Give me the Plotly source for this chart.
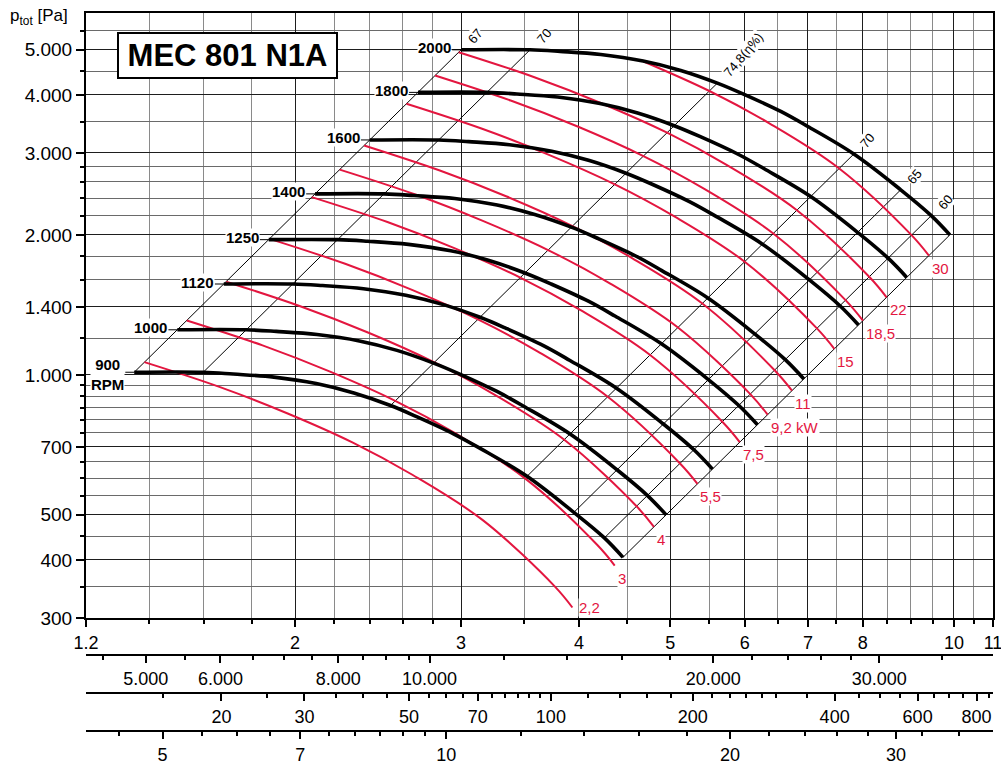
import numpy as np
import plotly.graph_objects as go

# ---------------- values ----------------
# Fan curves: volume flow Q [m3/s] and total pressure p_tot [Pa] per speed
q_2000 = [3.000, 3.550, 3.820, 4.220, 4.680, 5.130, 5.610, 5.980, 6.550, 6.990, 7.830, 8.780, 9.460, 9.900]
p_2000 = [5000, 5000, 4960, 4885, 4730, 4515, 4240, 4015, 3685, 3425, 2985, 2500, 2200, 2000]
q_1800 = [2.700, 3.195, 3.438, 3.798, 4.212, 4.617, 5.049, 5.382, 5.895, 6.291, 7.047, 7.902, 8.514, 8.910]
p_1800 = [4050, 4050, 4018, 3957, 3831, 3657, 3434, 3252, 2985, 2774, 2418, 2025, 1782, 1620]
q_1600 = [2.400, 2.840, 3.056, 3.376, 3.744, 4.104, 4.488, 4.784, 5.240, 5.592, 6.264, 7.024, 7.568, 7.920]
p_1600 = [3200, 3200, 3174, 3126, 3027, 2890, 2714, 2570, 2358, 2192, 1910, 1600, 1408, 1280]
q_1400 = [2.100, 2.485, 2.674, 2.954, 3.276, 3.591, 3.927, 4.186, 4.585, 4.893, 5.481, 6.146, 6.622, 6.930]
p_1400 = [2450, 2450, 2430, 2394, 2318, 2212, 2078, 1967, 1806, 1678, 1463, 1225, 1078, 980]
q_1250 = [1.875, 2.219, 2.388, 2.638, 2.925, 3.206, 3.506, 3.738, 4.094, 4.369, 4.894, 5.488, 5.913, 6.188]
p_1250 = [1953, 1953, 1938, 1908, 1848, 1764, 1656, 1568, 1440, 1338, 1166, 977, 859, 781]
q_1120 = [1.680, 1.988, 2.139, 2.363, 2.621, 2.873, 3.142, 3.349, 3.668, 3.914, 4.385, 4.917, 5.298, 5.544]
p_1120 = [1568, 1568, 1556, 1532, 1483, 1416, 1330, 1259, 1156, 1074, 936, 784, 690, 627]
q_1000 = [1.500, 1.775, 1.910, 2.110, 2.340, 2.565, 2.805, 2.990, 3.275, 3.495, 3.915, 4.390, 4.730, 4.950]
p_1000 = [1250, 1250, 1240, 1221, 1183, 1129, 1060, 1004, 921, 856, 746, 625, 550, 500]
q_900 = [1.350, 1.598, 1.719, 1.899, 2.106, 2.309, 2.525, 2.691, 2.948, 3.146, 3.524, 3.951, 4.257, 4.455]
p_900 = [1013, 1013, 1004, 989, 958, 914, 859, 813, 746, 694, 605, 506, 446, 405]
rpm_labels = ["2000", "1800", "1600", "1400", "1250", "1120", "1000", "900<br>RPM"]

# Shaft power curves [kW]
q_kw_2_2 = [1.384, 1.665, 1.961, 2.303, 2.666, 3.163, 3.775, 3.937]
p_kw_2_2 = [1065, 941, 827, 715, 609, 487, 350, 316]
q_kw_3 = [1.535, 1.847, 2.175, 2.554, 2.956, 3.507, 4.187, 4.366]
p_kw_3 = [1309, 1157, 1017, 879, 749, 599, 430, 389]
q_kw_4 = [1.690, 2.032, 2.393, 2.811, 3.254, 3.860, 4.608, 4.805]
p_kw_4 = [1586, 1401, 1232, 1064, 907, 725, 521, 471]
q_kw_5_5 = [1.879, 2.260, 2.661, 3.126, 3.619, 4.292, 5.124, 5.344]
p_kw_5_5 = [1961, 1733, 1523, 1316, 1122, 897, 644, 583]
q_kw_7_5 = [2.083, 2.506, 2.951, 3.466, 4.013, 4.760, 5.682, 5.925]
p_kw_7_5 = [2411, 2131, 1873, 1619, 1379, 1103, 792, 717]
q_kw_9_2 = [2.230, 2.683, 3.159, 3.710, 4.296, 5.095, 6.083, 6.343]
p_kw_9_2 = [2763, 2442, 2146, 1855, 1581, 1264, 908, 821]
q_kw_11 = [2.367, 2.848, 3.353, 3.938, 4.559, 5.408, 6.456, 6.732]
p_kw_11 = [3113, 2750, 2418, 2089, 1781, 1424, 1022, 925]
q_kw_15 = [2.625, 3.158, 3.718, 4.367, 5.056, 5.997, 7.159, 7.466]
p_kw_15 = [3828, 3382, 2973, 2569, 2189, 1751, 1257, 1137]
q_kw_18_5 = [2.815, 3.386, 3.988, 4.683, 5.422, 6.431, 7.677, 8.006]
p_kw_18_5 = [4403, 3890, 3420, 2955, 2518, 2014, 1446, 1308]
q_kw_22 = [2.982, 3.588, 4.225, 4.962, 5.744, 6.813, 8.134, 8.482]
p_kw_22 = [4941, 4366, 3838, 3317, 2826, 2260, 1623, 1468]
q_kw_30 = [4.685, 5.502, 6.370, 7.555, 9.020, 9.406]
p_kw_30 = [4720, 4078, 3475, 2779, 1995, 1805]
kw_labels = ["2,2", "3", "4", "5,5", "7,5", "9,2 kW", "11", "15", "18,5", "22", "30"]

# Efficiency lines (between the 900 and 2000 RPM curves)
q_eff_67 = [1.350, 3.00];  p_eff_67 = [1013, 5000]
q_eff_70a = [1.598, 3.55]; p_eff_70a = [1013, 5000]
q_eff_748 = [2.525, 5.61]; p_eff_748 = [859, 4240]
q_eff_70b = [3.524, 7.83]; p_eff_70b = [605, 2985]
q_eff_65 = [3.951, 8.78];  p_eff_65 = [506, 2500]
q_eff_60 = [4.257, 9.46];  p_eff_60 = [446, 2200]
q_end = [4.455, 9.90];     p_end = [405, 2000]
eff_labels = ["67", "70", "74,8(\u03b7%)", "70", "65", "60"]

# Axis ticks
x_major = [1.2, 2, 3, 4, 5, 6, 7, 8, 10, 11]
x_major_text = ["1.2", "2", "3", "4", "5", "6", "7", "8", "10", "11"]
x_minor = [1.4, 1.6, 1.8, 2.2, 2.4, 2.6, 2.8, 3.5, 4.5, 5.5, 6.5, 7.5, 8.5, 9, 9.5, 10.5]
x_dark_unlabelled = [9]
y_major = [300, 400, 500, 700, 1000, 1400, 2000, 3000, 4000, 5000]
y_major_text = ["300", "400", "500", "700", "1.000", "1.400", "2.000", "3.000", "4.000", "5.000"]
y_minor = [350, 450, 550, 600, 650, 750, 800, 850, 900, 950, 1200, 1600, 1800, 2200, 2400,
           2600, 2800, 3500, 4500, 5500]
y_dark_unlabelled = [600, 800, 900, 1200]
# m3/h scale
qh_major = [5000, 6000, 8000, 10000, 20000, 30000]
qh_major_text = ["5.000", "6.000", "8.000", "10.000", "20.000", "30.000"]
qh_minor = [4500, 5500, 6500, 7000, 7500, 8500, 9000, 9500, 12000, 14000, 16000, 18000,
            22000, 24000, 26000, 28000, 35000]
# dynamic pressure scale [Pa]
pd_major = [20, 30, 50, 70, 100, 200, 400, 600, 800]
pd_minor = [15, 25, 35, 40, 45, 55, 60, 65, 75, 80, 85, 90, 95, 120, 140, 160, 180,
            220, 240, 260, 280, 300, 350, 450, 500, 550, 650, 700, 750, 850]
# outlet velocity scale [m/s]
v_major = [5, 7, 10, 20, 30]
v_minor = [4.5, 5.5, 6, 6.5, 7.5, 8, 8.5, 9, 9.5, 12, 14, 16, 18, 22, 24, 26, 28, 32, 35]

# scale factors of the secondary axes relative to Q [m3/s]
QH_PER_Q = 3600.0
V_PER_Q = 3.456
PD_PER_Q2 = 0.6 * V_PER_Q ** 2

# ---------------- figure ----------------
RED = "#e3163f"
DARK = "#1e1e1e"
Q_MIN, Q_MAX = 1.2, 11.0
P_MIN, P_MAX = 300, 6000

H = 767
TOP, BOTTOM = 13, 0
plot_h = H - TOP - BOTTOM
def ypaper(py):
    return (H - BOTTOM - py) / plot_h

fig = go.Figure()

eff_lines = [(q_eff_67, p_eff_67), (q_eff_70a, p_eff_70a), (q_eff_748, p_eff_748),
             (q_eff_70b, p_eff_70b), (q_eff_65, p_eff_65), (q_eff_60, p_eff_60),
             (q_end, p_end)]
for q, p in eff_lines:
    fig.add_trace(go.Scatter(x=q, y=p, mode="lines", line=dict(color="black", width=1),
                             hoverinfo="skip"))

kw_curves = [(q_kw_2_2, p_kw_2_2), (q_kw_3, p_kw_3), (q_kw_4, p_kw_4), (q_kw_5_5, p_kw_5_5),
             (q_kw_7_5, p_kw_7_5), (q_kw_9_2, p_kw_9_2), (q_kw_11, p_kw_11),
             (q_kw_15, p_kw_15), (q_kw_18_5, p_kw_18_5), (q_kw_22, p_kw_22),
             (q_kw_30, p_kw_30)]
for q, p in kw_curves:
    fig.add_trace(go.Scatter(x=q, y=p, mode="lines",
                             line=dict(color=RED, width=2, shape="spline", smoothing=1.0)))

fan_curves = [(q_2000, p_2000), (q_1800, p_1800), (q_1600, p_1600), (q_1400, p_1400),
              (q_1250, p_1250), (q_1120, p_1120), (q_1000, p_1000), (q_900, p_900)]
for q, p in fan_curves:
    fig.add_trace(go.Scatter(x=q, y=p, mode="lines",
                             line=dict(color="black", width=3.6, shape="spline", smoothing=1.0)))
    # short leader from the speed label to the curve start
    fig.add_trace(go.Scatter(x=[q[0] / 1.022, q[0]], y=[p[0], p[0]], mode="lines",
                             line=dict(color="black", width=1)))

# dummy traces so that the secondary scales are bound to the plot
fig.add_trace(go.Scatter(x=[Q_MIN * QH_PER_Q, Q_MAX * QH_PER_Q], y=[1000, 1000], xaxis="x2",
                         mode="markers", marker=dict(opacity=0), hoverinfo="skip"))
fig.add_trace(go.Scatter(x=[PD_PER_Q2 * Q_MIN ** 2, PD_PER_Q2 * Q_MAX ** 2], y=[1000, 1000],
                         xaxis="x3", mode="markers", marker=dict(opacity=0), hoverinfo="skip"))
fig.add_trace(go.Scatter(x=[V_PER_Q * Q_MIN, V_PER_Q * Q_MAX], y=[1000, 1000], xaxis="x4",
                         mode="markers", marker=dict(opacity=0), hoverinfo="skip"))

# darker unlabelled grid lines (drawn below the traces)
shapes = []
for xv in x_dark_unlabelled:
    shapes.append(dict(type="line", xref="x", yref="paper", x0=np.log10(xv), x1=np.log10(xv),
                       y0=ypaper(618), y1=1, line=dict(color=DARK, width=1.3), layer="below"))
for yv in y_dark_unlabelled:
    shapes.append(dict(type="line", xref="paper", yref="y", y0=np.log10(yv), y1=np.log10(yv),
                       x0=0, x1=1, line=dict(color=DARK, width=1.3), layer="below"))

ann = []
# speed labels
for (q, p), lab in zip(fan_curves, rpm_labels):
    ann.append(dict(x=np.log10(q[0]), y=np.log10(p[0]), xref="x", yref="y", text="<b>%s</b>" % lab,
                    showarrow=False, xanchor="right", yanchor="middle", align="center",
                    xshift=-9, yshift=2 if "RPM" not in lab else -2,
                    font=dict(size=15, color="black"), bgcolor="white", borderpad=0))
# power labels
for (q, p), lab in zip(kw_curves, kw_labels):
    if lab == "2,2":
        pos = dict(xanchor="left", yanchor="middle", xshift=6, yshift=0)
    else:
        pos = dict(xanchor="left", yanchor="top", xshift=2, yshift=-3)
    ann.append(dict(x=np.log10(q[-1]), y=np.log10(p[-1]), xref="x", yref="y", text=lab,
                    showarrow=False, font=dict(size=15, color=RED), bgcolor="white",
                    borderpad=0, **pos))
# efficiency labels
for (q, p), lab in zip(eff_lines[:6], eff_labels):
    ann.append(dict(x=np.log10(q[-1]), y=np.log10(p[-1]), xref="x", yref="y", text=lab,
                    showarrow=False, xanchor="left", yanchor="bottom", xshift=2, yshift=2,
                    textangle=-50, font=dict(size=13, color="black"), bgcolor="white",
                    borderpad=0))
# title box
ann.append(dict(x=(227.5 - 86) / 907, y=ypaper(55), xref="paper", yref="paper",
                text="<b>MEC 801 N1A</b>", showarrow=False, xanchor="center", yanchor="middle",
                font=dict(size=31, color="black"), bgcolor="white", bordercolor="black",
                borderwidth=2, borderpad=1, width=215, height=41))
# y axis title
ann.append(dict(x=(8 - 86) / 907, y=ypaper(17), xref="paper", yref="paper",
                text="p<sub>tot</sub> [Pa]", showarrow=False, xanchor="left", yanchor="middle",
                font=dict(size=17, color="black")))

tickfont = dict(size=18, color="black")
sec_common = dict(type="log", anchor="free", overlaying="x", side="bottom", showline=True,
                  linecolor="black", linewidth=2, ticks="outside", ticklen=7, tickwidth=1.5,
                  tickcolor="black", showgrid=False, zeroline=False, tickfont=tickfont,
                  tickmode="array", automargin=False, ticklabeloverflow="allow")

fig.update_layout(
    width=1001, height=H, autosize=False,
    margin=dict(l=86, r=8, t=TOP, b=BOTTOM, pad=0, autoexpand=False),
    paper_bgcolor="white", plot_bgcolor="white",
    font=dict(family="Liberation Sans, Arial, sans-serif", color="black", size=14),
    showlegend=False,
    annotations=ann,
    shapes=shapes,
    xaxis=dict(type="log", range=[np.log10(Q_MIN), np.log10(Q_MAX)],
               tickmode="array", tickvals=x_major, ticktext=x_major_text,
               ticks="outside", ticklen=7, tickwidth=1.5, tickcolor="black",
               showgrid=True, gridcolor=DARK, gridwidth=1.3,
               minor=dict(tickmode="array", tickvals=x_minor, ticks="outside", ticklen=4,
                          tickcolor="black", showgrid=True, gridcolor="#8a8a8a", gridwidth=1),
               showline=True, mirror=True, linecolor="black", linewidth=2,
               zeroline=False, tickfont=tickfont, automargin=False, ticklabeloverflow="allow"),
    yaxis=dict(type="log", range=[np.log10(P_MIN), np.log10(P_MAX)], domain=[ypaper(618), 1],
               tickmode="array", tickvals=y_major, ticktext=y_major_text,
               ticks="outside", ticklen=8, tickwidth=1.5, tickcolor="black",
               showgrid=True, gridcolor=DARK, gridwidth=1.3,
               minor=dict(tickmode="array", tickvals=y_minor, ticks="outside", ticklen=4,
                          tickcolor="black", showgrid=True, gridcolor="#6a6a6a", gridwidth=1),
               showline=True, mirror=True, linecolor="black", linewidth=2,
               zeroline=False, tickfont=dict(size=19, color="black"), automargin=False,
               ticklabeloverflow="allow"),
    xaxis2=dict(sec_common, position=ypaper(655),
                range=[np.log10(Q_MIN * QH_PER_Q), np.log10(Q_MAX * QH_PER_Q)],
                tickvals=qh_major, ticktext=qh_major_text,
                minor=dict(tickmode="array", tickvals=qh_minor, ticks="outside", ticklen=4,
                           tickcolor="black", showgrid=False)),
    xaxis3=dict(sec_common, position=ypaper(693),
                range=[np.log10(PD_PER_Q2 * Q_MIN ** 2), np.log10(PD_PER_Q2 * Q_MAX ** 2)],
                tickvals=pd_major, ticktext=[str(v) for v in pd_major],
                minor=dict(tickmode="array", tickvals=pd_minor, ticks="outside", ticklen=4,
                           tickcolor="black", showgrid=False)),
    xaxis4=dict(sec_common, position=ypaper(731),
                range=[np.log10(V_PER_Q * Q_MIN), np.log10(V_PER_Q * Q_MAX)],
                tickvals=v_major, ticktext=[str(v) for v in v_major],
                minor=dict(tickmode="array", tickvals=v_minor, ticks="outside", ticklen=4,
                           tickcolor="black", showgrid=False)),
)

fig.write_html("out.html", config={"displayModeBar": False},
               post_script="document.body.style.margin='0px';document.body.style.overflow='hidden';")
